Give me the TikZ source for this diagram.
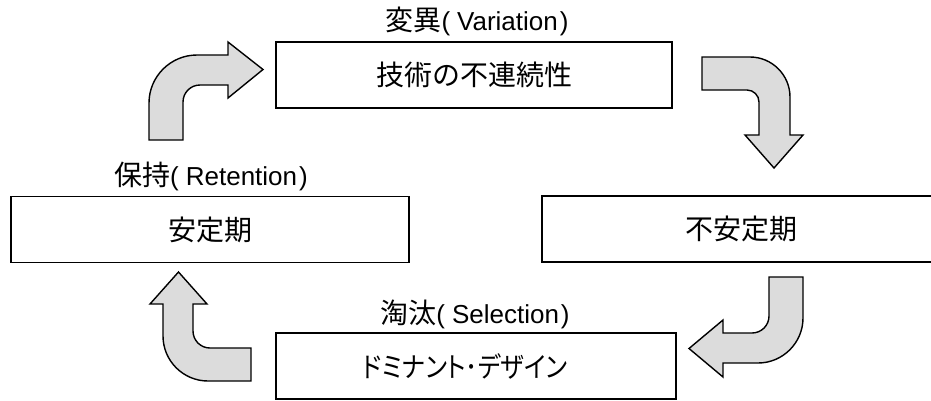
\documentclass[tikz,border=0pt]{standalone}
\usepackage{fontspec}
\setmainfont{Liberation Sans}
\newfontfamily\cjk{Noto Sans CJK JP}
\newfontfamily\cjkp[RawFeature=+palt]{Noto Sans CJK JP}
\definecolor{arrowgray}{RGB}{220,220,220}
\newcommand\jtxt[1]{{\cjk\fontsize{28}{32}\selectfont #1}}
\begin{document}
\begin{tikzpicture}[x=1pt,y=-1pt,
  stagebox/.style={draw=black, line width=1.6pt, fill=white, minimum height=66pt,
    inner sep=0pt, font=\cjk\fontsize{28}{32}\selectfont},
  phaselabel/.style={inner sep=0pt, font=\fontsize{26}{30}\selectfont},
  blockarrow/.style={draw=black, line width=1.4pt, fill=arrowgray, line join=miter}]
\useasboundingbox (0,0) rectangle (931,400);

% stage boxes
\node[stagebox, minimum width=396pt] (top) at (474,75) {技術の不連続性};
\node[stagebox, minimum width=398pt] (left) at (210,229.5) {安定期};
\node[stagebox, minimum width=398pt] (right) at (741,229) {不安定期};
\node[stagebox, minimum width=400pt] (bottom) at (476,366) {\scalebox{0.87}[1]{\cjkp ドミナント･デザイン}\kern22pt};

% phase labels
\node[phaselabel] (lvar) at (477,21) {\jtxt{変異}(\kern7pt Variation\kern2pt)};
\node[phaselabel] (lret) at (211,176) {\jtxt{保持}(\kern7pt Retention\kern2pt)};
\node[phaselabel] (lsel) at (475,314) {\jtxt{淘汰}(\kern7pt Selection\kern2pt)};

% curved block arrows
\draw[blockarrow] (149,140) -- (149,103) .. controls (149,76.5) and (170.5,55) .. (197,55)
  -- (228,55) -- (228,42) -- (263,69.5) -- (228,98) -- (228,85) -- (200,85)
  .. controls (190.6,85) and (183,92.6) .. (183,102) -- (183,140) -- cycle;

\draw[blockarrow] (702,57) -- (750,57) .. controls (772,57) and (790,75) .. (790,97)
  -- (790,135) -- (803,135) -- (774,168) -- (745,135) -- (759,135) -- (759,102)
  .. controls (759,95.4) and (753.6,90) .. (747,90) -- (702,90) -- cycle;

\draw[blockarrow] (769,277) -- (803,277) -- (803,318) .. controls (803,342.8) and (782.8,363) .. (758,363)
  -- (723,363) -- (723,377) -- (689,348.5) -- (723,320) -- (723,333) -- (752,333)
  .. controls (761.4,333) and (769,325.4) .. (769,316) -- cycle;

\draw[blockarrow] (251,348) -- (251,381) -- (208,381) .. controls (183.2,381) and (163,360.8) .. (163,336)
  -- (163,304) -- (150,304) -- (178.5,272) -- (207,304) -- (193,304) -- (193,331)
  .. controls (193,340.4) and (200.6,348) .. (210,348) -- cycle;
\end{tikzpicture}
\end{document}
